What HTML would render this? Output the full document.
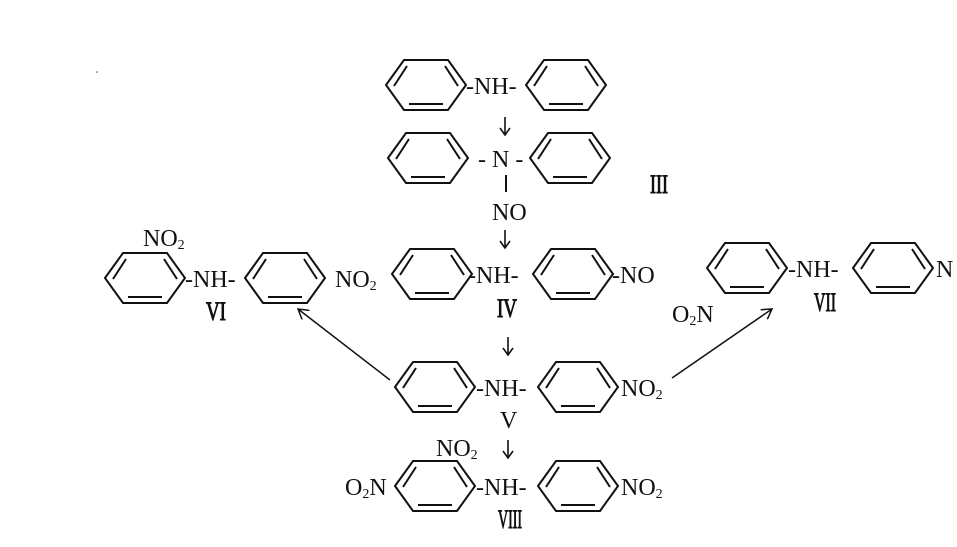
<!DOCTYPE html>
<html><head><meta charset="utf-8"><style>
html,body{margin:0;padding:0;background:#fff;}
svg{display:block}
text{font-family:"Liberation Serif",serif;font-size:24px;fill:#111}
.s{font-size:14px}
.rn{font-size:26px;stroke:#111;stroke-width:1}
</style></head><body>
<svg width="957" height="547" viewBox="0 0 957 547" xmlns="http://www.w3.org/2000/svg">
<defs>
<g id="r" fill="none" stroke="#111" stroke-width="2">
<polygon points="-40,0 -22,-25 22,-25 40,0 22,25 -22,25"/>
<line x1="-32" y1="1" x2="-19" y2="-19"/>
<line x1="19" y1="-19" x2="32" y2="1"/>
<line x1="-17" y1="19" x2="17" y2="19"/>
</g>
<g id="dn" fill="none" stroke="#111" stroke-width="1.6">
<line x1="0" y1="0" x2="0" y2="18"/>
<path d="M-5,11 L0,18 L5,11"/>
</g>
<marker id="ah" markerWidth="12" markerHeight="12" refX="10" refY="6" orient="auto" markerUnits="userSpaceOnUse">
<path d="M0,0 L10,6 L0,12" fill="none" stroke="#111" stroke-width="1.5"/>
</marker>
</defs>
<circle cx="97" cy="72" r="0.8" fill="#555"/>
<use href="#r" x="426" y="85"/><use href="#r" x="566" y="85"/>
<text x="466" y="94">-NH-</text>
<use href="#dn" x="505" y="117"/>
<use href="#r" x="428" y="158"/><use href="#r" x="570" y="158"/>
<text x="478" y="167">- N -</text>
<line x1="506" y1="175" x2="506" y2="192" stroke="#111" stroke-width="2"/>
<text x="492" y="220">NO</text>
<use href="#dn" x="505" y="230"/>
<text class="rn" x="650" y="193" textLength="18" lengthAdjust="spacingAndGlyphs">III</text>
<use href="#r" x="432" y="274"/><use href="#r" x="573" y="274"/>
<text x="468" y="283">-NH-</text>
<text x="612" y="283">-NO</text>
<text class="rn" x="497" y="317" textLength="20" lengthAdjust="spacingAndGlyphs">IV</text>
<use href="#dn" x="508" y="337"/>
<use href="#r" x="435" y="387"/><use href="#r" x="578" y="387"/>
<text x="476" y="396">-NH-</text>
<text x="621" y="396">NO<tspan class="s" dy="3">2</tspan></text>
<text x="500" y="428">V</text>
<use href="#dn" x="508" y="440"/>
<use href="#r" x="435" y="486"/><use href="#r" x="578" y="486"/>
<text x="476" y="495">-NH-</text>
<text x="621" y="495">NO<tspan class="s" dy="3">2</tspan></text>
<text x="436" y="456">NO<tspan class="s" dy="3">2</tspan></text>
<text x="345" y="495">O<tspan class="s" dy="3">2</tspan><tspan dy="-3">N</tspan></text>
<text class="rn" x="498" y="528" textLength="24" lengthAdjust="spacingAndGlyphs">VIII</text>
<use href="#r" x="145" y="278"/><use href="#r" x="285" y="278"/>
<text x="185" y="287">-NH-</text>
<text x="335" y="287">NO<tspan class="s" dy="3">2</tspan></text>
<text x="143" y="246">NO<tspan class="s" dy="3">2</tspan></text>
<text class="rn" x="206" y="320" textLength="20" lengthAdjust="spacingAndGlyphs">VI</text>
<use href="#r" x="747" y="268"/><use href="#r" x="893" y="268"/>
<text x="788" y="277">-NH-</text>
<text x="936" y="277">N</text>
<text x="672" y="322">O<tspan class="s" dy="3">2</tspan><tspan dy="-3">N</tspan></text>
<text class="rn" x="814" y="311" textLength="22" lengthAdjust="spacingAndGlyphs">VII</text>
<line x1="390" y1="380" x2="298" y2="309" stroke="#111" stroke-width="1.5" marker-end="url(#ah)"/>
<line x1="672" y1="378" x2="772" y2="309" stroke="#111" stroke-width="1.5" marker-end="url(#ah)"/>
</svg>
</body></html>
